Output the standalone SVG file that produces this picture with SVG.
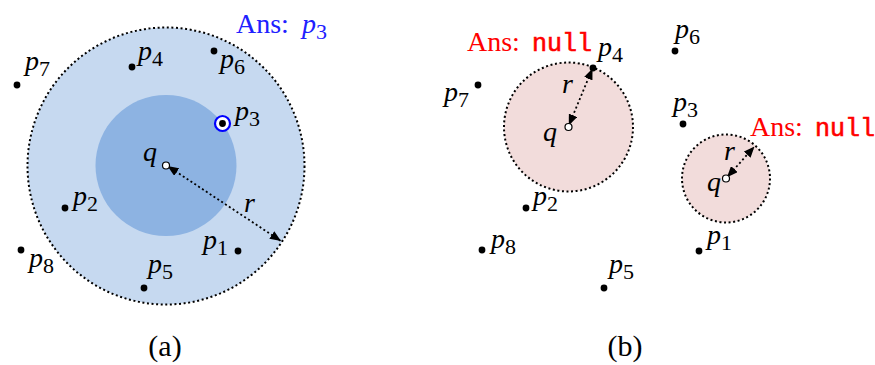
<svg xmlns="http://www.w3.org/2000/svg" width="875" height="365" viewBox="0 0 875 365">
<style>
text{font-family:'Liberation Serif','DejaVu Serif',serif}
.m{font-style:italic;font-size:28px}
.sub{font-style:normal;font-size:22px}
.rm{font-size:28px}
.tt{font-family:'Liberation Mono','DejaVu Sans Mono',monospace;font-size:25px;font-style:normal;stroke:#ff0000;stroke-width:0.6}
.cap{font-size:30px}
.bnd{fill:none;stroke:#000;stroke-width:2;stroke-dasharray:2 2.6}
.dot{fill:#000}
.qd{fill:#fff;stroke:#000;stroke-width:1.2}
.arr{fill:none;stroke:#000;stroke-width:1.8;stroke-dasharray:2 2.6;marker-start:url(#ah);marker-end:url(#ah)}
</style>
<defs>
<marker id="ah" viewBox="0 0 11 9" refX="11" refY="4.5" markerWidth="11" markerHeight="9" markerUnits="userSpaceOnUse" orient="auto-start-reverse">
<path d="M0,0 L11,4.5 L0,9 Z" fill="#000"/>
</marker>
</defs>

<!-- panel (a) -->
<g id="a-range">
<circle cx="166" cy="166" r="138.5" fill="#c6d9f0"/>
<circle cx="166" cy="165.5" r="70.5" fill="#8db3e2"/>
<circle cx="166" cy="166" r="138.5" class="bnd"/>
</g>
<g id="a-p7"><circle cx="17" cy="85" r="3.4" class="dot"/><text x="25" y="70" class="m">p<tspan class="sub" dy="6">7</tspan></text></g>
<g id="a-p4"><circle cx="132" cy="67" r="3.4" class="dot"/><text x="138" y="60" class="m">p<tspan class="sub" dy="6">4</tspan></text></g>
<g id="a-p6"><circle cx="214" cy="51" r="3.4" class="dot"/><text x="220" y="68" class="m">p<tspan class="sub" dy="6">6</tspan></text></g>
<g id="a-p3"><circle cx="222.5" cy="123.5" r="7.5" fill="#fff" stroke="#0000ff" stroke-width="2.2"/><circle cx="222.5" cy="123.5" r="3.4" class="dot"/><text x="235" y="120" class="m">p<tspan class="sub" dy="6">3</tspan></text></g>
<g id="a-p2"><circle cx="65" cy="208" r="3.4" class="dot"/><text x="73" y="205" class="m">p<tspan class="sub" dy="6">2</tspan></text></g>
<g id="a-p8"><circle cx="21" cy="250" r="3.4" class="dot"/><text x="29" y="267" class="m">p<tspan class="sub" dy="6">8</tspan></text></g>
<g id="a-p5"><circle cx="144" cy="288" r="3.4" class="dot"/><text x="148" y="273" class="m">p<tspan class="sub" dy="6">5</tspan></text></g>
<g id="a-p1"><circle cx="238" cy="251" r="3.4" class="dot"/><text x="203" y="249" class="m">p<tspan class="sub" dy="6">1</tspan></text></g>
<g id="a-q"><text x="143" y="161" class="m">q</text></g>
<g id="a-ans"><text x="236" y="33" class="rm" fill="#2020ff">Ans: <tspan class="m" x="302">p<tspan class="sub" dy="6">3</tspan></tspan></text></g>
<text x="165" y="356" class="cap" text-anchor="middle">(a)</text>

<!-- panel (b) -->
<g id="b-range1">
<circle cx="568.5" cy="127" r="64.5" fill="#f2dcdb"/>
<circle cx="568.5" cy="127" r="64.5" class="bnd"/>
</g>
<g id="b-range2">
<circle cx="726" cy="178.5" r="44" fill="#f2dcdb"/>
<circle cx="726" cy="178.5" r="44" class="bnd"/>
</g>
<g id="b-p7"><circle cx="478" cy="85" r="3.4" class="dot"/><text x="444" y="101" class="m">p<tspan class="sub" dy="6">7</tspan></text></g>
<g id="b-p4"><circle cx="593" cy="68" r="3.4" class="dot"/><text x="598" y="56" class="m">p<tspan class="sub" dy="6">4</tspan></text></g>
<g id="b-p6"><circle cx="675" cy="51" r="3.4" class="dot"/><text x="675" y="38" class="m">p<tspan class="sub" dy="6">6</tspan></text></g>
<g id="b-p3"><circle cx="683" cy="124" r="3.4" class="dot"/><text x="673" y="111" class="m">p<tspan class="sub" dy="6">3</tspan></text></g>
<g id="b-p2"><circle cx="526" cy="208" r="3.4" class="dot"/><text x="533" y="205" class="m">p<tspan class="sub" dy="6">2</tspan></text></g>
<g id="b-p8"><circle cx="482" cy="250" r="3.4" class="dot"/><text x="491" y="248" class="m">p<tspan class="sub" dy="6">8</tspan></text></g>
<g id="b-p5"><circle cx="604" cy="288" r="3.4" class="dot"/><text x="609" y="273" class="m">p<tspan class="sub" dy="6">5</tspan></text></g>
<g id="b-p1"><circle cx="699" cy="251" r="3.4" class="dot"/><text x="707" y="244" class="m">p<tspan class="sub" dy="6">1</tspan></text></g>
<g id="b-q1"><text x="543" y="141" class="m">q</text></g>
<g id="b-q2"><text x="707" y="191" class="m">q</text></g>
<g id="b-ans1"><text x="467" y="51" class="rm" fill="#ff0000">Ans: <tspan class="tt" x="532">null</tspan></text></g>
<g id="b-ans2"><text x="750" y="136" class="rm" fill="#ff0000">Ans: <tspan class="tt" x="815">null</tspan></text></g>
<text x="625" y="356" class="cap" text-anchor="middle">(b)</text>

<!-- connectors -->
<g id="connectors">
<path d="M167.5,166 L281,241" class="arr"/>
<path d="M568.8,125.5 L592.5,68.5" class="arr"/>
<path d="M727,177.3 L754.5,146.5" class="arr"/>
</g>
<g id="r-labels">
<text x="244" y="212" class="m">r</text>
<text x="562" y="93" class="m">r</text>
<text x="724" y="160" class="m">r</text>
</g>
<g id="q-points">
<circle cx="166" cy="165.5" r="3.5" class="qd"/>
<circle cx="568.5" cy="127" r="3.5" class="qd"/>
<circle cx="726" cy="178.5" r="3.5" class="qd"/>
</g>
</svg>
